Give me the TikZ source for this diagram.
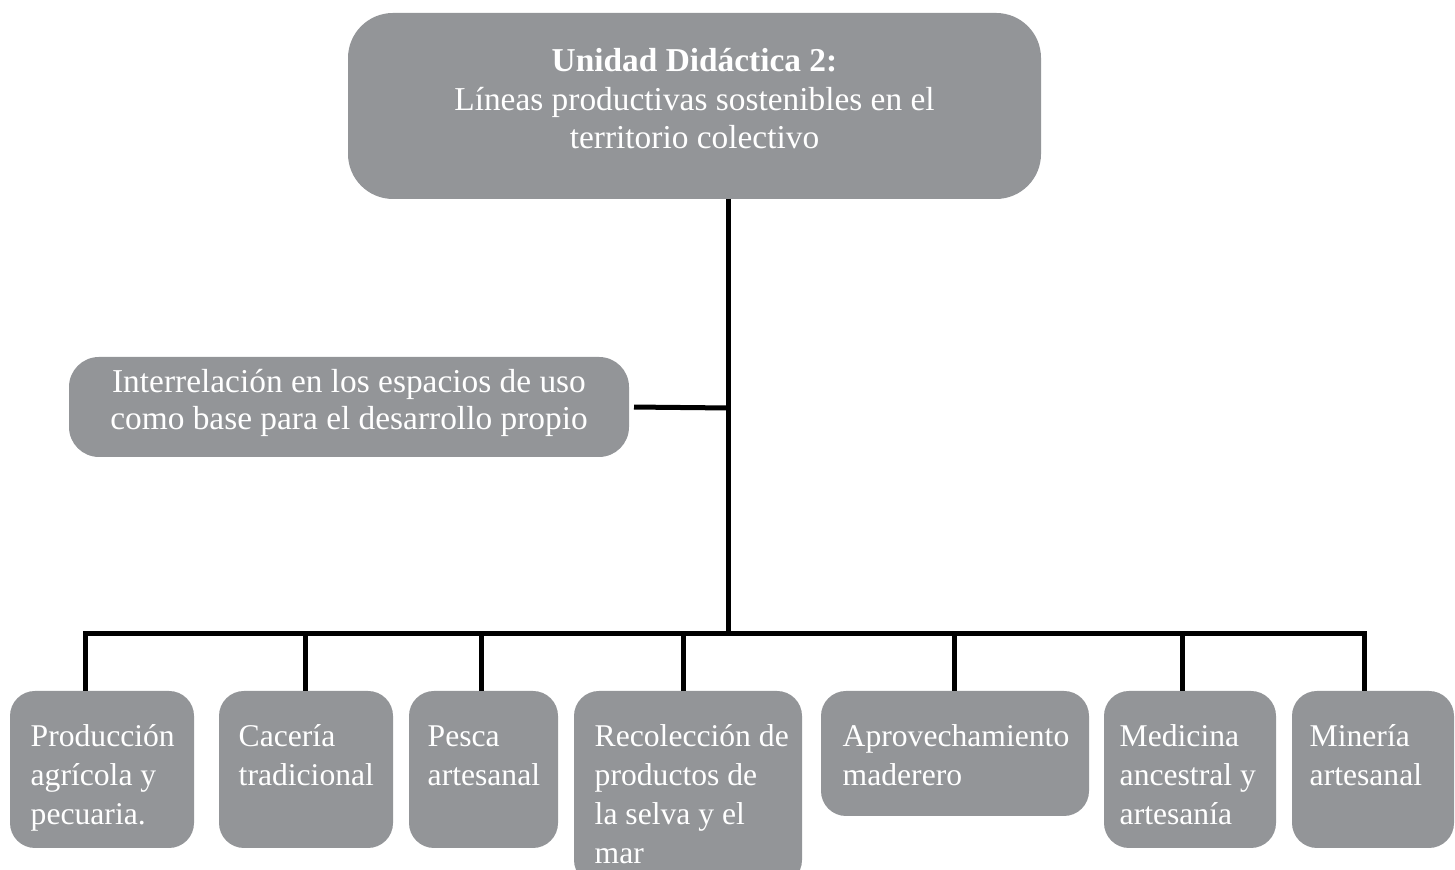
\documentclass[tikz,border=0pt]{standalone}
\usepackage{fontspec}
\setmainfont{Liberation Serif}
\definecolor{unitgray}{RGB}{147,149,152}

\begin{document}
\begin{tikzpicture}[
	unit/.style={fill=unitgray,rounded corners=#1,inner sep=0,outer sep=0,text=white},
	unit/.default=2.5mm,
	unittext/.style={inner sep=0,align=center,text=white,font=\fontsize{9.5}{#1}\selectfont},
	leaftext/.style={anchor=north west,inner sep=0,align=left,text=white,font=\fontsize{9}{11.1}\selectfont},
	link/.style={line width=0.5mm}]
	\useasboundingbox (0,0) rectangle (14.55,8.70);
	\clip (0,0) rectangle (14.55,8.70);
	% top and middle boxes
	\node[unit=4.5mm,minimum width=6.93cm,minimum height=1.86cm] (0) at (6.945,7.64) {};
	\node[unittext=10.95] (0t) at (6.945,7.71) {\textbf{Unidad Didáctica 2:}\\Líneas productivas sostenibles en el\\territorio colectivo};
	\node[unit=3mm,minimum width=5.60cm,minimum height=1.00cm] (m) at (3.49,4.63) {};
	\node[unittext=10.5] (mt) at (3.49,4.67) {Interrelación en los espacios de uso\\como base para el desarrollo propio};
	% bottom boxes
	\node[unit,minimum width=1.84cm,minimum height=1.57cm] (1) at (1.02,1.005) {};
	\node[unit,minimum width=1.74cm,minimum height=1.57cm] (2) at (3.06,1.005) {};
	\node[unit,minimum width=1.49cm,minimum height=1.57cm] (3) at (4.835,1.005) {};
	\node[unit,minimum width=2.28cm,minimum height=1.94cm] (4) at (6.88,0.82) {};
	\node[unit,minimum width=2.68cm,minimum height=1.25cm] (5) at (9.55,1.165) {};
	\node[unit,minimum width=1.72cm,minimum height=1.57cm] (6) at (11.90,1.005) {};
	\node[unit,minimum width=1.62cm,minimum height=1.57cm] (7) at (13.73,1.005) {};
	\node[leaftext] (t1) at (0.30,1.46) {Producción\\agrícola y\\pecuaria.};
	\node[leaftext] (t2) at (2.38,1.46) {Cacería\\tradicional};
	\node[leaftext] (t3) at (4.27,1.45) {Pesca\\artesanal};
	\node[leaftext] (t4) at (5.94,1.46) {Recolección de\\productos de\\la selva y el\\mar};
	\node[leaftext] (t5) at (8.42,1.46) {Aprovechamiento\\maderero};
	\node[leaftext] (t6) at (11.19,1.46) {Medicina\\ancestral y\\artesanía};
	\node[leaftext] (t7) at (13.09,1.46) {Minería\\artesanal};
	% lines
	\coordinate (j) at (7.28,4.62);
	\coordinate (bus) at (7.28,2.36);
	\coordinate (k1) at (0.85,2.36);
	\coordinate (k2) at (3.05,2.36);
	\coordinate (k3) at (4.81,2.36);
	\coordinate (k4) at (6.83,2.36);
	\coordinate (k5) at (9.54,2.36);
	\coordinate (k6) at (11.82,2.36);
	\coordinate (k7) at (13.64,2.36);
	\draw[link] (0.south -| bus) -- (bus);
	\draw[link,shorten <=0.5mm] (m.east) -- (j);
	\draw[link] (1.north -| k1) -- (k1) -- (k7) -- (7.north -| k7);
	\foreach \i in {2,...,6}
		\draw[link] (k\i) -- (\i.north -| k\i);
\end{tikzpicture}
\end{document}
